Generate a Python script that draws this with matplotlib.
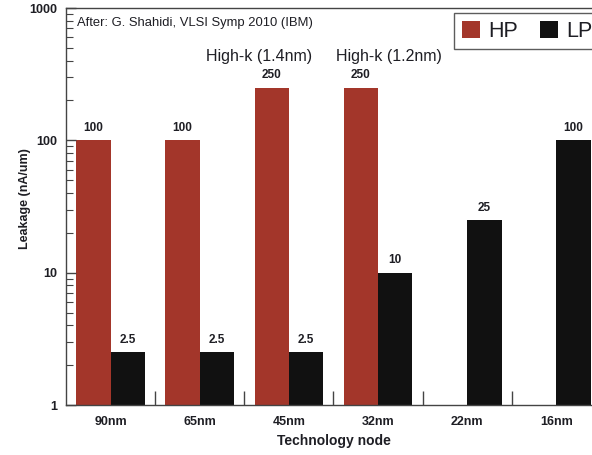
import numpy as np
import matplotlib
matplotlib.use("Agg")
import matplotlib.pyplot as plt
from matplotlib.patches import Patch
from matplotlib.ticker import FixedLocator, NullFormatter

plt.rcParams['font.family'] = ['Liberation Sans', 'DejaVu Sans']

nodes = ["90nm", "65nm", "45nm", "32nm", "22nm", "16nm"]
hpLeakage = [100, 100, 250, 250, np.nan, np.nan]
lpLeakage = [2.5, 2.5, 2.5, 10, 25, 100]
hpLabels = ["100", "100", "250", "250", "", ""]
lpLabels = ["2.5", "2.5", "2.5", "10", "25", "100"]

hpColor = "#a3362a"
lpColor = "#111111"
textColor = "#1e1e24"
barWidth = 0.385

fig = plt.figure(figsize=(5.92, 4.55), dpi=100)
ax = fig.add_axes([66 / 592, 50 / 455, 535 / 592, 397 / 455])

x = np.arange(len(nodes))
hpBars = ax.bar(x - barWidth / 2, hpLeakage, barWidth, color=hpColor, label="HP")
lpBars = ax.bar(x + barWidth / 2, lpLeakage, barWidth, color=lpColor, label="LP")

ax.set_yscale("log")
ax.set_ylim(1, 1000)
ax.set_xlim(-0.5, len(nodes) - 0.5)

# value labels above each bar
for bars, labels in ((hpBars, hpLabels), (lpBars, lpLabels)):
    for bar, lab in zip(bars, labels):
        if not lab:
            continue
        ax.annotate(lab, (bar.get_x() + bar.get_width() / 2, bar.get_height()),
                    xytext=(0, 4.5), textcoords="offset points",
                    ha="center", va="bottom", fontsize=8.5, fontweight="bold",
                    color=textColor)

# x axis: category names, separators between groups
ax.set_xticks(x)
ax.set_xticklabels(nodes, fontsize=9, fontweight="bold", color=textColor)
ax.tick_params(axis="x", which="major", length=0, pad=8)
ax.xaxis.set_minor_locator(FixedLocator(x[:-1] + 0.5))
ax.tick_params(axis="x", which="minor", direction="in", length=10, width=1, color="#444444")

# y axis
ax.set_yticks([1, 10, 100, 1000])
ax.set_yticklabels(["1", "10", "100", "1000"], fontsize=9, fontweight="bold", color=textColor)
ax.yaxis.set_minor_formatter(NullFormatter())
ax.tick_params(axis="y", which="major", direction="in", length=7, width=1, color="#444444", pad=6)
ax.tick_params(axis="y", which="minor", direction="in", length=5, width=0.8, color="#444444")

for side in ("left", "bottom", "top", "right"):
    ax.spines[side].set_color("#444444")
    ax.spines[side].set_linewidth(1)

ax.set_xlabel("Technology node", fontsize=10, fontweight="bold", color=textColor, labelpad=4)
ax.set_ylabel("Leakage (nA/um)", fontsize=9, fontweight="bold", color=textColor)
ax.yaxis.set_label_coords(-0.065, 0.52)

ax.text(0.02, 0.962, "After: G. Shahidi, VLSI Symp 2010 (IBM)", transform=ax.transAxes,
        fontsize=9.4, color=textColor, va="center", ha="left")
ax.text(1.67, 430, "High-k (1.4nm)", fontsize=11.5, color=textColor, ha="center", va="center")
ax.text(3.12, 430, "High-k (1.2nm)", fontsize=11.5, color=textColor, ha="center", va="center")

handles = [Patch(facecolor=hpColor, label="HP"), Patch(facecolor=lpColor, label="LP")]
leg = ax.legend(handles=handles, ncol=2, loc="upper left", bbox_to_anchor=(454 / 592, 1 - 13 / 455),
                bbox_transform=fig.transFigure, fontsize=15.5, frameon=True, fancybox=False,
                handlelength=0.85, handleheight=0.85, handletextpad=0.4, columnspacing=1.0,
                borderpad=0.35, borderaxespad=0)
leg.get_frame().set_edgecolor("#333333")
leg.get_frame().set_linewidth(1)
for t in leg.get_texts():
    t.set_color(textColor)

fig.savefig("out.png", dpi=100)
